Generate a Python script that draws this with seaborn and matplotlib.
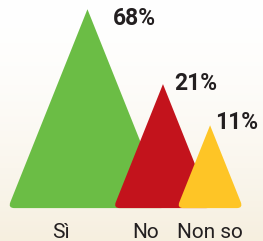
import numpy as np
import matplotlib
matplotlib.use("Agg")
import matplotlib.pyplot as plt
from matplotlib.path import Path
from matplotlib.patches import PathPatch
import seaborn as sns

# --- data ---
categories = ["Sì", "No", "Non so"]
percentages = [68, 21, 11]

# --- style ---
colors = ["#6bbd45", "#c3131c", "#fec526"]
text_color = "#231f20"
base_value = 3.0          # where the peaks sit on the log axis
y_range = (1.79, 78.6)    # log axis limits
x_range = (0, 4.13)       # x in "e-fold" units so shapes keep their proportions
slope = 0.40              # half width / height
left_margin = 0.125
corner = 0.10             # rounding of the base corners
label_offsets = [(25, -16), (11, -6), (5, -4)]   # px from apex to % label (left, baseline)

sns.set_theme(style="white")
plt.rcParams["font.family"] = ["Roboto", "DejaVu Sans"]

fig = plt.figure(figsize=(2.63, 2.41), dpi=100)
ax = fig.add_axes([0, 0, 1, 1])
ax.set_yscale("log")
ax.set_xlim(*x_range)
ax.set_ylim(*y_range)
ax.axis("off")

# background: white fading to cream towards the bottom
grad = np.linspace(0, 1, 256) ** 1.6
bg = np.ones((256, 1, 3))
cream = np.array([0.965, 0.937, 0.875])
for i, g in enumerate(grad):
    bg[i, 0] = (1 - g) * np.array([1, 1, 1]) + g * cream
ax.imshow(bg, extent=[0, 1, 0, 1], transform=ax.transAxes, aspect="auto",
          origin="upper", zorder=0)

# peaks
heights = [np.log(p / base_value) for p in percentages]
half_w = [slope * h for h in heights]
centers = []
c = left_margin + half_w[0]
for i in range(len(percentages)):
    if i > 0:
        c = centers[-1] + 0.95 * half_w[i - 1]
    centers.append(c)


def along(x0, y0, x1, y1, t):
    # point a fraction t of the way along a straight line in display space
    return x0 + t * (x1 - x0), y0 * (y1 / y0) ** t


for i, (p, cx, hw, h) in enumerate(zip(percentages, centers, half_w, heights)):
    xl, xr = cx - hw, cx + hw
    side = np.hypot(hw, h)
    t = corner / side
    pl = along(xl, base_value, cx, p, t)
    pr = along(xr, base_value, cx, p, t)
    verts = [
        (cx, p), pl, (xl, base_value), (xl + corner, base_value),
        (xr - corner, base_value), (xr, base_value), pr, (cx, p), (cx, p),
    ]
    codes = [Path.MOVETO, Path.LINETO, Path.CURVE3, Path.CURVE3,
             Path.LINETO, Path.CURVE3, Path.CURVE3, Path.LINETO, Path.CLOSEPOLY]
    ax.add_patch(PathPatch(Path(verts, codes), facecolor=colors[i],
                           edgecolor="none", zorder=2 + i))

    dx, dy = label_offsets[i]
    ax.annotate(f"{p}%", xy=(cx, p), xytext=(dx * 0.72, dy * 0.72),
                textcoords="offset points", ha="left", va="baseline",
                fontsize=16.5, fontweight="bold", color=text_color, zorder=10)

# category labels centered on the visible part of each base
for i, name in enumerate(categories):
    left = centers[i] - half_w[i]
    right = centers[i + 1] - half_w[i + 1] if i + 1 < len(categories) else centers[i] + half_w[i]
    ax.text((left + right) / 2, 0.014, name, transform=ax.get_xaxis_transform(),
            ha="center", va="baseline", fontsize=15, color=text_color, zorder=10)

fig.savefig("out.png", dpi=100)
